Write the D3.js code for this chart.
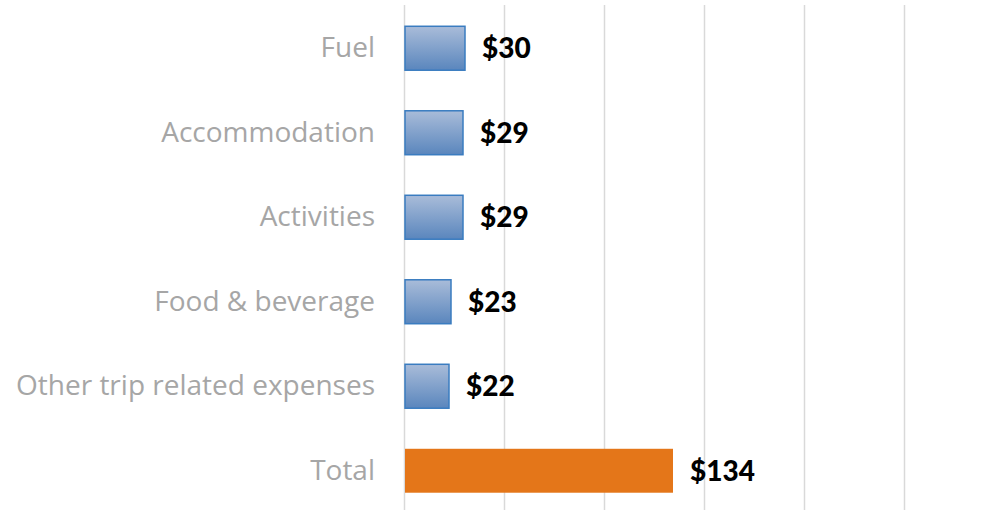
<!DOCTYPE html>
<html>
<head>
<meta charset="utf-8">
<script src="https://cdn.jsdelivr.net/npm/d3@7"></script>
<style>
  body { margin: 0; background: #fff; }
  svg { display: block; }
</style>
</head>
<body>
<svg id="canvas" width="994" height="510"></svg>
<script>
// Spend per category
const categories = ['Fuel', 'Accommodation', 'Activities', 'Food & beverage', 'Other trip related expenses', 'Total'];
const values = [30, 29, 29, 23, 22, 134];
const gridTicks = [0, 50, 100, 150, 200, 250];

const svg = d3.select('#canvas');

const x = d3.scaleLinear().domain([0, 250]).range([404, 904]);
const y = d3.scaleBand().domain(categories).range([6, 513]).paddingInner(0.48).paddingOuter(0.24);

// gradient for the blue bars
const grad = svg.append('defs').append('linearGradient')
    .attr('id', 'blueGrad')
    .attr('x1', 0).attr('y1', 0).attr('x2', 0).attr('y2', 1);
grad.append('stop').attr('offset', '0%').attr('stop-color', '#a9bcd9');
grad.append('stop').attr('offset', '100%').attr('stop-color', '#5a86bd');

// vertical gridlines
svg.append('g')
    .selectAll('line')
    .data(gridTicks)
    .join('line')
    .attr('x1', d => x(d) + 0.5)
    .attr('x2', d => x(d) + 0.5)
    .attr('y1', 5)
    .attr('y2', 510)
    .style('stroke', '#d9d9d9')
    .style('stroke-width', 1.5);

const rows = categories.map((c, i) => ({cat: c, val: values[i], total: c === 'Total'}));

svg.append('g')
    .selectAll('rect')
    .data(rows)
    .join('rect')
    .attr('x', x(0) + 1)
    .attr('y', d => y(d.cat))
    .attr('width', d => x(d.val) - x(0))
    .attr('height', y.bandwidth())
    .style('fill', d => d.total ? '#e47619' : 'url(#blueGrad)')
    .style('stroke', d => d.total ? 'none' : '#3a7cc0')
    .style('stroke-width', 1.5);

// category labels
const yAxis = d3.axisLeft(y).tickSize(0).tickPadding(0);
svg.append('g')
    .attr('transform', 'translate(375,0)')
    .call(yAxis)
    .call(g => g.select('.domain').remove())
    .selectAll('text')
    .style('font-family', '"Open Sans", sans-serif')
    .style('font-weight', 400)
    .style('font-size', '28px')
    .style('fill', '#a6a6a6');

// value labels
svg.append('g')
    .selectAll('text')
    .data(rows)
    .join('text')
    .attr('x', d => x(d.val) + 18)
    .attr('y', d => y(d.cat) + y.bandwidth() / 2)
    .attr('dy', '0.35em')
    .text(d => '$' + d.val)
    .style('font-family', 'Lato, sans-serif')
    .style('font-weight', 900)
    .style('font-size', '28px')
    .style('fill', '#000');
</script>
</body>
</html>
